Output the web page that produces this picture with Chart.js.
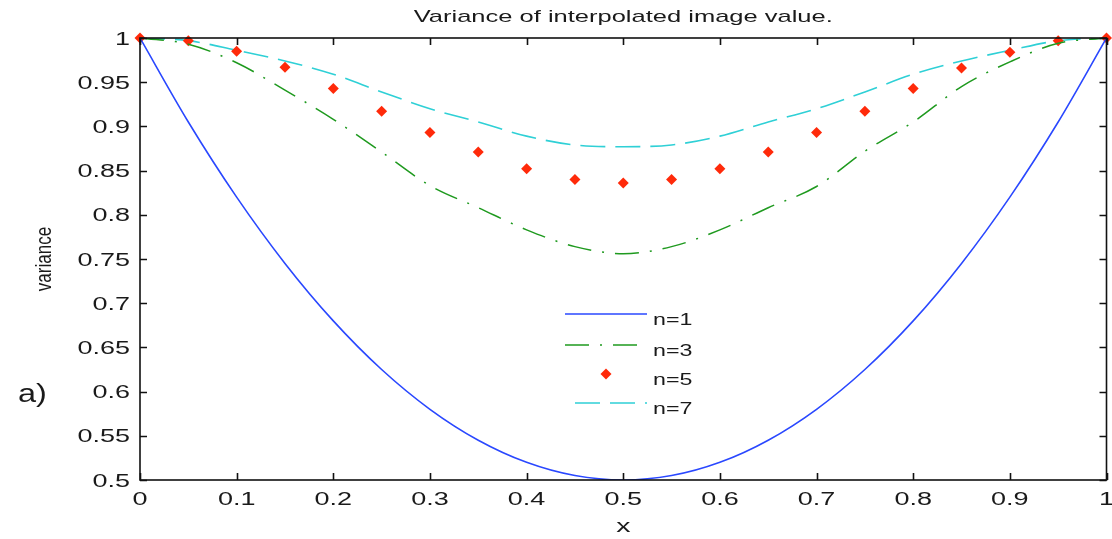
<!DOCTYPE html>
<html>
<head>
<meta charset="utf-8">
<script src="https://cdn.jsdelivr.net/npm/chart.js@4/dist/chart.umd.min.js"></script>
<style>
  html, body { margin: 0; padding: 0; background: #fff; }
  #wrap { width: 1112px; height: 539px; position: relative; }
</style>
</head>
<body>
<div id="wrap"><canvas id="varianceChart"></canvas></div>
<script>
const xValues = [0, 0.05, 0.1, 0.15, 0.2, 0.25, 0.3, 0.35, 0.4, 0.45, 0.5,
  0.55, 0.6, 0.65, 0.7, 0.75, 0.8, 0.85, 0.9, 0.95, 1];
const n1Values = [1, 0.905, 0.82, 0.745, 0.68, 0.625, 0.58, 0.545, 0.52, 0.505, 0.5,
  0.505, 0.52, 0.545, 0.58, 0.625, 0.68, 0.745, 0.82, 0.905, 1];
const n3Values = [1, 0.993, 0.972, 0.941, 0.908, 0.871, 0.833, 0.808, 0.783, 0.764, 0.756,
  0.764, 0.783, 0.808, 0.832, 0.872, 0.905, 0.945, 0.973, 0.994, 1];
const n5Values = [1, 0.997, 0.985, 0.967, 0.943, 0.917, 0.893, 0.871, 0.852, 0.840, 0.836,
  0.840, 0.852, 0.871, 0.893, 0.917, 0.943, 0.966, 0.984, 0.997, 1];
const n7Values = [1, 0.997, 0.986, 0.974, 0.959, 0.939, 0.920, 0.905, 0.889, 0.879, 0.877,
  0.879, 0.889, 0.905, 0.920, 0.939, 0.959, 0.974, 0.986, 0.997, 1];

const xTicks = [0, 0.1, 0.2, 0.3, 0.4, 0.5, 0.6, 0.7, 0.8, 0.9, 1];
const xTickLabels = ["0", "0.1", "0.2", "0.3", "0.4", "0.5", "0.6", "0.7", "0.8", "0.9", "1"];
const yTicks = [0.5, 0.55, 0.6, 0.65, 0.7, 0.75, 0.8, 0.85, 0.9, 0.95, 1];
const yTickLabels = ["0.5", "0.55", "0.6", "0.65", "0.7", "0.75", "0.8", "0.85", "0.9", "0.95", "1"];
const seriesLabels = ["n=1", "n=3", "n=5", "n=7"];

const chartTitle = "Variance of interpolated image value.";
const xTitle = "x";
const yTitle = "variance";
const panelTag = "a)";

const FONT = "'Liberation Sans', Arial, sans-serif";
const STRETCH = 1.5;

function toPoints(values) {
  return xValues.map((x, i) => ({ x: x, y: values[i] }));
}

function stretchedText(ctx, text, x, y, size, align, baseline, stretch, rotate) {
  ctx.save();
  ctx.font = size + "px " + FONT;
  ctx.fillStyle = "#1a1a1a";
  ctx.textAlign = align;
  ctx.textBaseline = baseline;
  ctx.translate(x, y);
  ctx.scale(stretch, 1);
  if (rotate) ctx.rotate(-Math.PI / 2);
  ctx.fillText(text, 0, 0);
  ctx.restore();
}

const framePlugin = {
  id: "frame",
  afterDatasetsDraw(chart) {
    const ctx = chart.ctx;
    const area = chart.chartArea;
    const xScale = chart.scales.x;
    const yScale = chart.scales.y;
    const tick = 7;

    ctx.save();
    ctx.strokeStyle = "#111";
    ctx.lineWidth = 1.6;
    ctx.strokeRect(area.left, area.top, area.right - area.left, area.bottom - area.top);

    ctx.beginPath();
    xTicks.forEach(v => {
      const px = Math.round(xScale.getPixelForValue(v)) + 0.5;
      ctx.moveTo(px, area.bottom);
      ctx.lineTo(px, area.bottom - tick);
      ctx.moveTo(px, area.top);
      ctx.lineTo(px, area.top + tick);
    });
    yTicks.forEach(v => {
      const py = Math.round(yScale.getPixelForValue(v)) + 0.5;
      ctx.moveTo(area.left, py);
      ctx.lineTo(area.left + tick, py);
      ctx.moveTo(area.right, py);
      ctx.lineTo(area.right - tick, py);
    });
    ctx.stroke();
    ctx.restore();
  },
  afterDraw(chart) {
    const ctx = chart.ctx;
    const area = chart.chartArea;
    const xScale = chart.scales.x;
    const yScale = chart.scales.y;

    xTicks.forEach((v, i) => {
      stretchedText(ctx, xTickLabels[i], xScale.getPixelForValue(v), area.bottom + 25,
        18, "center", "alphabetic", STRETCH, false);
    });
    yTicks.forEach((v, i) => {
      stretchedText(ctx, yTickLabels[i], area.left - 10, yScale.getPixelForValue(v) + 6.5,
        18, "right", "alphabetic", STRETCH, false);
    });

    stretchedText(ctx, chartTitle, (area.left + area.right) / 2, 22, 17, "center", "alphabetic", STRETCH, false);
    stretchedText(ctx, xTitle, (area.left + area.right) / 2, area.bottom + 52, 19, "center", "alphabetic", STRETCH, false);
    stretchedText(ctx, yTitle, 51, (area.top + area.bottom) / 2, 17, "center", "alphabetic", 1.35, true);
    stretchedText(ctx, panelTag, 18, 402, 26, "left", "alphabetic", 1.25, false);

    // legend, no box
    const rows = [314, 345, 374, 403];
    const lineStart = 565;
    const lineEnd = 647;
    chart.data.datasets.forEach((ds, i) => {
      const y = rows[i];
      ctx.save();
      if (ds.showLine === false) {
        const cx = (lineStart + lineEnd) / 2;
        const r = ds.pointRadius;
        ctx.fillStyle = ds.pointBackgroundColor;
        ctx.beginPath();
        ctx.moveTo(cx, y - r);
        ctx.lineTo(cx + r, y);
        ctx.lineTo(cx, y + r);
        ctx.lineTo(cx - r, y);
        ctx.closePath();
        ctx.fill();
      } else {
        ctx.strokeStyle = ds.borderColor;
        ctx.lineWidth = ds.borderWidth;
        ctx.setLineDash(ds.borderDash || []);
        ctx.lineDashOffset = ds.legendDashOffset || 0;
        ctx.beginPath();
        ctx.moveTo(lineStart, y);
        ctx.lineTo(lineEnd, y);
        ctx.stroke();
      }
      ctx.restore();
      stretchedText(ctx, ds.label, 653, y + 11, 16, "left", "alphabetic", 1.45, false);
    });
  }
};

const context = document.getElementById("varianceChart").getContext("2d");

new Chart(context, {
  type: "line",
  data: {
    datasets: [
      {
        label: seriesLabels[0],
        data: toPoints(n1Values),
        borderColor: "#2a48ff",
        borderWidth: 1.6,
        pointRadius: 0,
        cubicInterpolationMode: "monotone",
        fill: false
      },
      {
        label: seriesLabels[1],
        data: toPoints(n3Values),
        borderColor: "#1f9a1f",
        borderWidth: 1.5,
        borderDash: [24, 11, 2, 11],
        pointRadius: 0,
        cubicInterpolationMode: "monotone",
        fill: false
      },
      {
        label: seriesLabels[2],
        data: toPoints(n5Values),
        showLine: false,
        pointStyle: "rectRot",
        pointRadius: 5.5,
        pointBackgroundColor: "#ff2a0a",
        pointBorderColor: "#ff2a0a",
        pointBorderWidth: 0,
        clip: false
      },
      {
        label: seriesLabels[3],
        data: toPoints(n7Values),
        borderColor: "#2fd0d6",
        borderWidth: 1.6,
        borderDash: [25, 10],
        legendDashOffset: -10,
        pointRadius: 0,
        cubicInterpolationMode: "monotone",
        fill: false
      }
    ]
  },
  options: {
    responsive: true,
    maintainAspectRatio: false,
    animation: false,
    layout: { padding: { left: 140, right: 2, top: 38, bottom: 59 } },
    plugins: {
      legend: { display: false },
      title: { display: false },
      tooltip: { enabled: false }
    },
    scales: {
      x: { type: "linear", min: 0, max: 1, display: false },
      y: { type: "linear", min: 0.5, max: 1, display: false }
    }
  },
  plugins: [framePlugin]
});
</script>
</body>
</html>
